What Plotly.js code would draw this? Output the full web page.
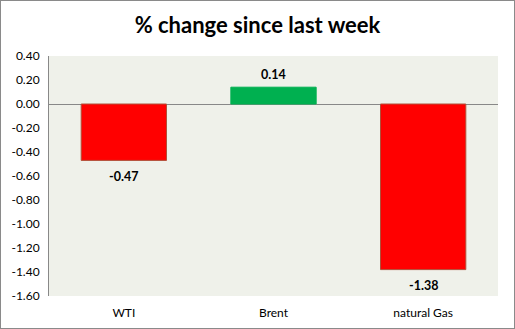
<!DOCTYPE html>
<html><head><meta charset="utf-8">
<script src="https://cdn.plot.ly/plotly-3.0.1.min.js"></script>
<style>html,body{margin:0;padding:0;background:#fff}#wrap{width:515px;height:329px;box-sizing:border-box;border:1px solid #8a8a8a;}#chart{width:513px;height:327px}</style>
</head><body><div id="wrap"><div id="chart"></div></div>
<script>
const categories = ["WTI", "Brent", "natural Gas"];
const values = [-0.47, 0.14, -1.38];
const tickVals = [0.4, 0.2, 0, -0.2, -0.4, -0.6, -0.8, -1.0, -1.2, -1.4, -1.6];
const tickLabels = ["0.40", "0.20", "0.00", "-0.20", "-0.40", "-0.60", "-0.80", "-1.00", "-1.20", "-1.40", "-1.60"];
const colors = values.map(v => v >= 0 ? "#00B050" : "#FF0000");
const lineColors = values.map(v => v >= 0 ? "#00B050" : "#B0503A");
const font = "Lato, 'Open Sans', sans-serif";
const annotations = categories.map((c, i) => ({
  x: c, y: values[i], xref: "x", yref: "y",
  text: "<b>" + values[i].toFixed(2) + "</b>",
  showarrow: false, xanchor: "center", yanchor: "middle",
  yshift: values[i] >= 0 ? 13 : -16,
  font: {family: font, size: 12.5, color: "#000"}
}));
Plotly.newPlot("chart", [{
  type: "bar",
  x: categories,
  y: values,
  marker: {color: colors, line: {color: lineColors, width: 1}},
  width: 0.57,
  hoverinfo: "none"
}], {
  width: 513, height: 327,
  margin: {l: 48, r: 16, t: 55, b: 32, pad: 0},
  paper_bgcolor: "#ffffff",
  plot_bgcolor: "#EFF1EA",
  title: {text: "<b>% change since last week</b>", font: {family: font, size: 22, color: "#000"}, x: 0.5, xanchor: "center", y: 0.925, yanchor: "middle"},
  showlegend: false,
  annotations: annotations,
  xaxis: {type: "category", showline: false, ticks: "", showgrid: false, zeroline: false,
    ticklabelstandoff: 8,
    tickfont: {family: font, size: 12, color: "#000"}},
  yaxis: {range: [-1.6, 0.4], tickvals: tickVals, ticktext: tickLabels, showgrid: false,
    zeroline: true, zerolinecolor: "#888", zerolinewidth: 1,
    showline: true, linecolor: "#888", linewidth: 1, ticks: "",
    ticklabelstandoff: 6,
    tickfont: {family: font, size: 12, color: "#000"}}
}, {staticPlot: true});
</script></body></html>
